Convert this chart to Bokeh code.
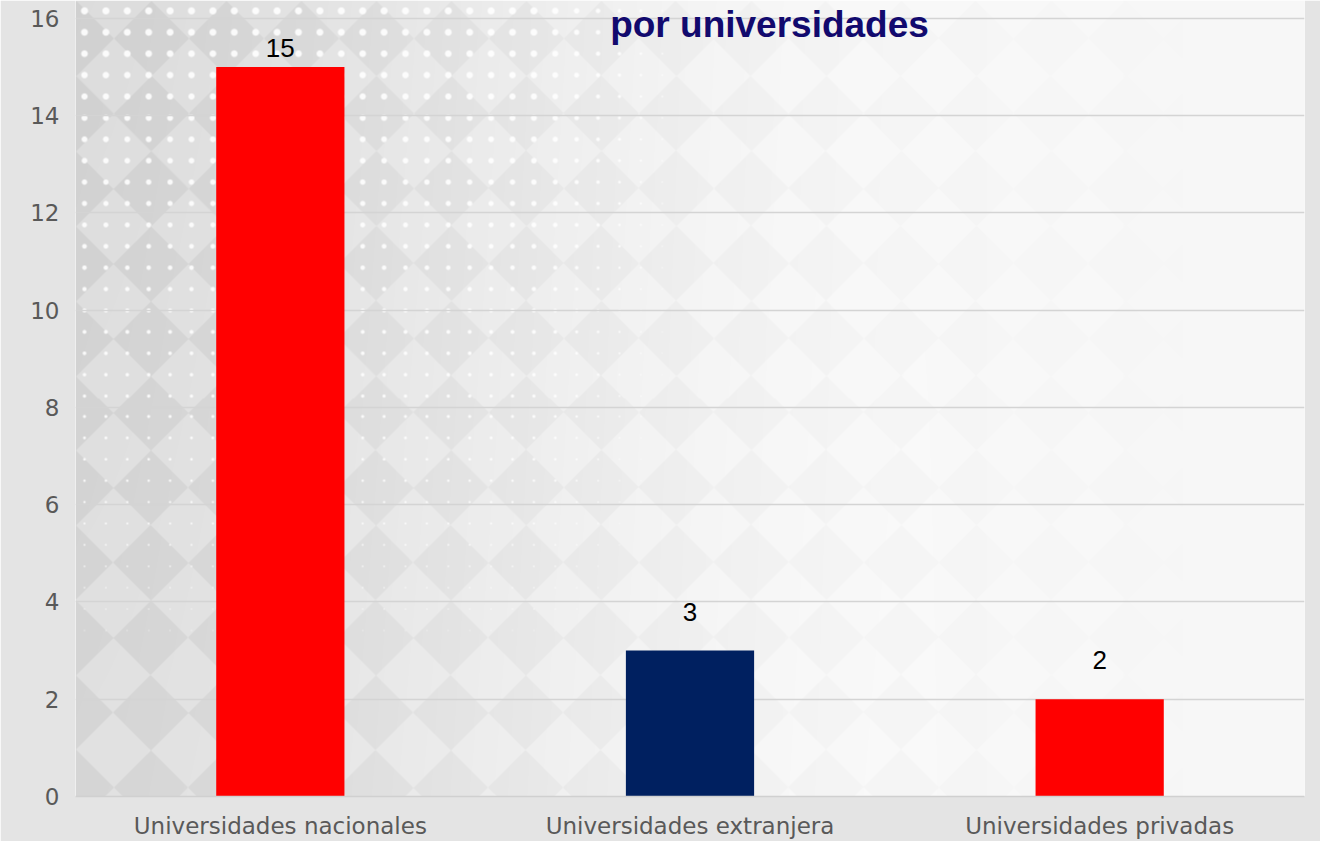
import numpy as np
from bokeh.plotting import figure
from bokeh.models import ColumnDataSource, Label, FixedTicker
from bokeh.core.properties import value
from bokeh.embed import file_html
from bokeh.resources import INLINE

# ---- data ----
categories = ["Universidades nacionales", "Universidades extranjera", "Universidades privadas"]
counts = [15, 3, 2]
bar_colors = ["#ff0000", "#002060", "#ff0000"]
y_ticks = [0, 2, 4, 6, 8, 10, 12, 14, 16]
title_text = "por universidades"

# ---- layout ----
W, H = 1320, 841
ML, MR, MT, MB = 75, 16, 0, 44
TOPGAP = 18  # px between frame top and the highest tick
fw, fh = W - ML - MR, H - MT - MB
ymax = y_ticks[-1]
ppu = (fh - TOPGAP) / ymax
y_end = ymax + TOPGAP / ppu

p = figure(x_range=categories, y_range=(0, y_end), width=W, height=H,
           output_backend="svg", toolbar_location=None,
           min_border_left=ML, min_border_right=MR, min_border_top=MT, min_border_bottom=MB)
p.x_range.range_padding = 0
p.border_fill_color = "#e4e4e4"
p.outline_line_color = None

# ---- decorative background texture (frame only) ----
cols = np.arange(fw)[None, :].astype(float)
rows = np.arange(fh)[:, None].astype(float)
X = cols + ML
Y = rows + MT
t = np.clip(X / 950.0, 0, 1)
base = 0.84 + 0.13 * (3 * t**2 - 2 * t**3) + 0.02 * np.clip(Y / 800.0, 0, 1) * (1 - t)
P = 150.0
chk = np.sin((X + Y) * 2 * np.pi / P) * np.sin((X - Y) * 2 * np.pi / P)
base = base + 0.025 * np.sign(chk) * (1 - np.clip(X / 1250.0, 0, 1))
S = 21.4
dx = np.mod(X - 30, S) - S / 2
dy = np.mod(Y - 42, S) - S / 2
dist = np.sqrt(dx**2 + dy**2)
r = 3.6 * np.clip(1 - Y / 720.0, 0, 1) * np.clip((700 - X) / 160.0, 0, 1)
a = np.clip(r - dist + 0.5, 0, 1) * (r > 0.4) * 0.9
g = base * (1 - a) + 1.0 * a
g = np.clip(g, 0, 1)
v8 = (g * 255).astype(np.uint8)
img = np.empty((fh, fw), dtype=np.uint32)
view = img.view(dtype=np.uint8).reshape((fh, fw, 4))
view[..., 0] = v8
view[..., 1] = v8
view[..., 2] = v8
view[..., 3] = 255
img = img[::-1].copy()
p.image_rgba(image=[img], x=0, y=0, dw=len(categories), dh=y_end, level="image")

# ---- bars ----
offs = [-min(39.0, (ymax - c) * ppu - 30.0) for c in counts]
src = ColumnDataSource(dict(cat=categories, count=counts, color=bar_colors,
                            label=[str(c) for c in counts], offs=offs))
p.vbar(x="cat", top="count", width=0.313, color="color", line_color=None, source=src)
p.text(x="cat", y="count", text="label", y_offset="offs", source=src,
       text_align="center", text_baseline="middle",
       text_font=value("Liberation Sans"), text_font_size="26px", text_color="#000000")

# ---- axes & grid ----
p.xaxis.axis_line_color = "#d0d0d0"
p.xaxis.axis_line_width = 1.5
p.xaxis.major_tick_line_color = None
p.xaxis.minor_tick_line_color = None
p.xaxis.major_label_text_font = "DejaVu Sans"
p.xaxis.major_label_text_font_size = "23px"
p.xaxis.major_label_text_color = "#595959"
p.xaxis.major_label_standoff = 10

p.yaxis.ticker = FixedTicker(ticks=y_ticks)
p.yaxis.axis_line_color = None
p.yaxis.major_tick_line_color = None
p.yaxis.minor_tick_line_color = None
p.yaxis.major_label_text_font = "DejaVu Sans"
p.yaxis.major_label_text_font_size = "23px"
p.yaxis.major_label_text_color = "#595959"
p.yaxis.major_label_standoff = 10

p.xgrid.grid_line_color = None
p.ygrid.ticker = FixedTicker(ticks=y_ticks)
p.ygrid.grid_line_color = "#d4d4d4"
p.ygrid.grid_line_width = 1.5

# ---- title fragment ----
p.add_layout(Label(x=694, y=fh - 25, x_units="screen", y_units="screen", text=title_text,
                   text_align="center", text_baseline="alphabetic",
                   text_font="Liberation Sans", text_font_style="bold",
                   text_font_size="37px", text_color="#120a6e"))

open("out.html", "w").write(file_html(p, INLINE))
